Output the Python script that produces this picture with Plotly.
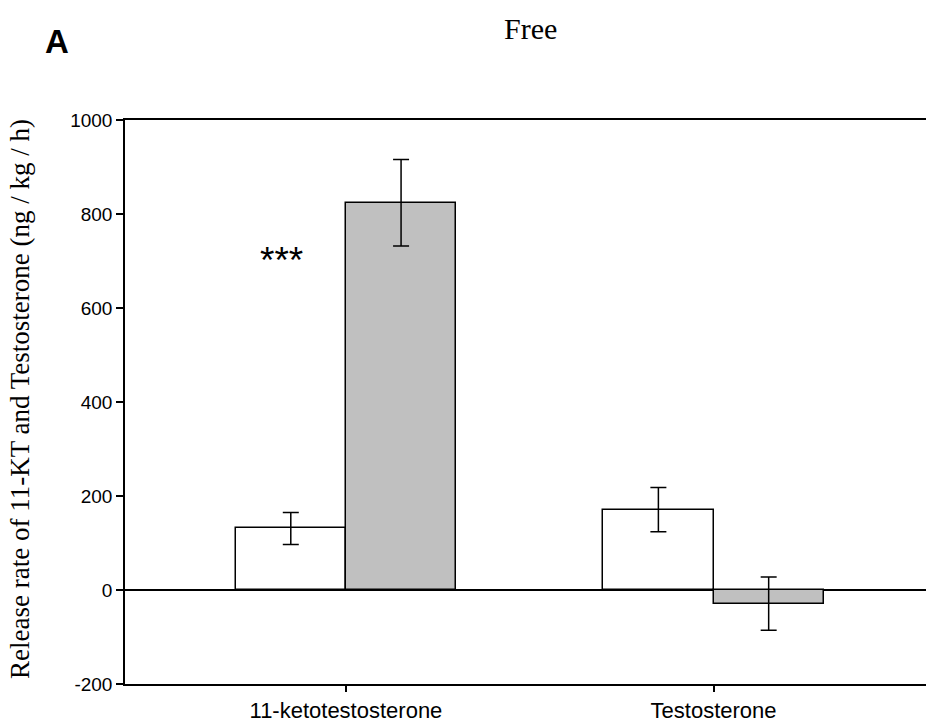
import plotly.graph_objects as go

categories = ["11-ketotestosterone", "Testosterone"]
control_values = [131, 171]
control_errors = [34, 47]
treated_values = [824, -29]
treated_errors = [92, 56.5]
y_ticks = [-200, 0, 200, 400, 600, 800, 1000]
y_tick_labels = ["-200", "0", "200", "400", "600", "800", "1000"]

xpos = list(range(len(categories)))

W, H = 926, 724
ML, MR, MT, MB = 125, 0, 120, 40
PW, PH = W - ML - MR, H - MT - MB

def px(xp):
    return (xp - ML) / PW

def py(yp):
    return (H - MB - yp) / PH

fig = go.Figure()
fig.add_trace(go.Bar(
    x=xpos, y=control_values, width=0.3, offset=-0.3,
    marker=dict(color="white", line=dict(color="black", width=1.5)),
    error_y=dict(type="data", array=control_errors, color="black", thickness=1.5, width=8),
    showlegend=False,
))
fig.add_trace(go.Bar(
    x=xpos, y=treated_values, width=0.3, offset=0,
    marker=dict(color="#c0c0c0", line=dict(color="black", width=1.5)),
    error_y=dict(type="data", array=treated_errors, color="black", thickness=1.5, width=8),
    showlegend=False,
))

fig.add_annotation(x=-0.175, y=701, text="***", showarrow=False,
                   font=dict(family="Arial", size=37, color="black"),
                   xref="x", yref="y", yanchor="middle")
fig.add_annotation(x=px(57), y=py(42), text="<b>A</b>", showarrow=False,
                   font=dict(family="Arial", size=33, color="black"),
                   xref="paper", yref="paper", xanchor="center", yanchor="middle")
fig.add_annotation(x=px(20), y=py(399), text="Release rate of 11-KT and Testosterone (ng / kg / h)",
                   textangle=-90, showarrow=False,
                   font=dict(family="Liberation Serif, Times New Roman", size=27, color="black"),
                   xref="paper", yref="paper", xanchor="center", yanchor="middle")
fig.add_annotation(x=px(530), y=py(28), text="Free", showarrow=False,
                   font=dict(family="Liberation Serif, Times New Roman", size=30, color="black"),
                   xref="paper", yref="paper", xanchor="center", yanchor="middle")

fig.update_layout(
    width=W, height=H,
    margin=dict(l=ML, r=MR, t=MT, b=MB),
    paper_bgcolor="white", plot_bgcolor="white",
    bargap=0,
)

fig.update_xaxes(
    range=[-0.601, 1.578], tickvals=xpos, ticktext=categories,
    showline=True, linecolor="black", linewidth=1.5, mirror=True,
    ticks="outside", ticklen=6, tickcolor="black", tickwidth=1.5,
    showgrid=False, zeroline=False,
    tickfont=dict(family="Arial", size=22, color="black"),
)
fig.update_yaxes(
    range=[-200, 1000], tickvals=y_ticks, ticktext=y_tick_labels,
    showline=True, linecolor="black", linewidth=1.5,
    ticks="outside", ticklen=7, tickcolor="black", tickwidth=1.5,
    showgrid=False, zeroline=True, zerolinecolor="black", zerolinewidth=1.5,
    tickfont=dict(family="Arial", size=19, color="black"),
)
fig.write_html("out.html")
